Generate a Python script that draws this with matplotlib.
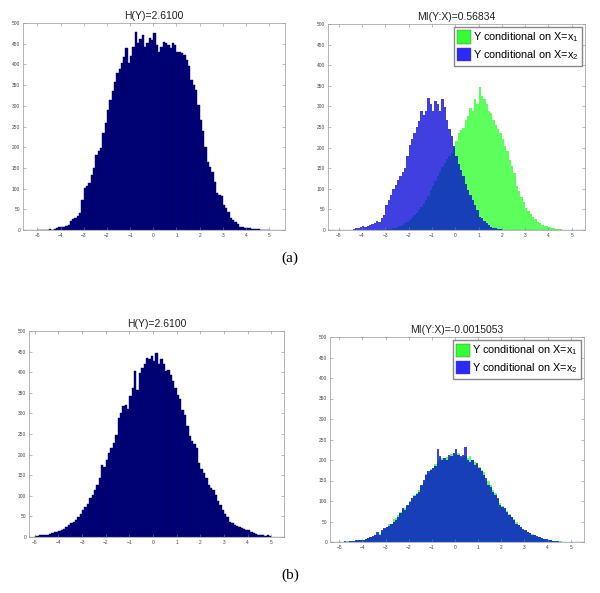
import numpy as np
import matplotlib
matplotlib.use("Agg")
import matplotlib.pyplot as plt
from matplotlib.patches import Patch

plt.rcParams['font.family'] = ['Liberation Sans', 'DejaVu Sans']
plt.rcParams['mathtext.fontset'] = 'custom'
plt.rcParams['mathtext.rm'] = 'Liberation Sans'
plt.rcParams['mathtext.it'] = 'Liberation Sans'

# 100 bins of width 0.1 between -5 and 5 (bin centres)
bin_centers = np.round(np.arange(100) * 0.1 - 4.95, 2)

# (a) left: H(Y) histogram
counts_a_y = [
    0, 0, 1, 0, 1, 2, 1, 3, 6, 7,
    8, 8, 9, 12, 22, 26, 29, 35, 41, 72,
    101, 107, 113, 133, 150, 181, 190, 198, 234, 258,
    290, 314, 336, 358, 379, 390, 403, 418, 440, 403,
    420, 443, 479, 451, 462, 471, 443, 452, 463, 458,
    476, 448, 430, 441, 455, 452, 447, 440, 451, 448,
    430, 429, 427, 423, 410, 395, 362, 350, 338, 302,
    266, 240, 201, 165, 152, 141, 117, 89, 85, 81,
    60, 52, 44, 28, 24, 20, 14, 8, 7, 5,
    4, 4, 3, 3, 2, 2, 1, 1, 0, 1,
]

# (a) right: Y conditional on X=x1 (green) and X=x2 (blue)
counts_a_x1 = [
    0, 0, 0, 0, 0, 0, 0, 0, 0, 0,
    0, 0, 0, 0, 0, 0, 0, 0, 1, 1,
    2, 2, 3, 5, 6, 8, 10, 12, 16, 20,
    25, 30, 36, 42, 49, 56, 64, 73, 82, 98,
    108, 118, 130, 140, 152, 163, 172, 180, 188, 200,
    215, 236, 242, 248, 268, 276, 297, 290, 317, 305,
    346, 325, 318, 305, 290, 285, 268, 255, 244, 236,
    220, 205, 191, 171, 155, 138, 106, 94, 81, 69,
    53, 45, 38, 32, 26, 20, 16, 12, 10, 9,
    8, 6, 5, 3, 3, 2, 1, 1, 0, 1,
]
counts_a_x2 = [
    0, 0, 0, 0, 1, 1, 2, 4, 6, 8,
    9, 8, 10, 12, 14, 18, 22, 20, 30, 37,
    61, 72, 85, 100, 110, 122, 130, 140, 151, 179,
    207, 220, 236, 250, 264, 289, 280, 289, 321, 305,
    289, 312, 305, 290, 317, 298, 268, 244, 228, 203,
    179, 159, 145, 130, 112, 98, 85, 73, 60, 49,
    32, 28, 22, 16, 12, 8, 6, 4, 3, 2,
    1, 1, 0, 0, 0, 0, 0, 0, 0, 0,
    0, 0, 0, 0, 0, 0, 0, 0, 0, 0,
    0, 0, 0, 0, 0, 0, 0, 0, 0, 0,
]

# (b) left: H(Y) histogram
counts_b_y = [
    2, 3, 4, 4, 5, 6, 8, 10, 12, 12,
    15, 18, 20, 24, 28, 33, 37, 42, 49, 55,
    65, 73, 81, 94, 102, 115, 126, 142, 175, 171,
    187, 203, 215, 228, 248, 289, 300, 317, 321, 310,
    342, 362, 403, 358, 399, 411, 419, 435, 431, 439,
    427, 447, 419, 431, 420, 403, 405, 394, 378, 362,
    345, 334, 309, 297, 270, 244, 232, 225, 216, 179,
    165, 155, 142, 126, 120, 114, 102, 88, 77, 65,
    55, 49, 37, 33, 29, 26, 24, 22, 20, 18,
    16, 12, 10, 8, 6, 4, 4, 3, 4, 3,
]

# (b) right: conditionals
counts_b_x1 = [
    0, 1, 1, 2, 2, 3, 3, 3, 5, 5,
    6, 7, 9, 11, 13, 16, 18, 20, 27, 32,
    36, 45, 44, 56, 58, 65, 72, 80, 84, 88,
    99, 104, 114, 120, 128, 136, 150, 166, 168, 178,
    181, 190, 198, 203, 206, 200, 208, 206, 214, 212,
    215, 218, 204, 208, 210, 205, 210, 199, 195, 190,
    182, 176, 170, 148, 150, 138, 126, 120, 104, 96,
    88, 80, 76, 68, 62, 55, 48, 42, 36, 30,
    28, 24, 22, 19, 16, 13, 11, 9, 8, 6,
    5, 4, 3, 3, 2, 2, 1, 1, 0, 1,
]
counts_b_x2 = [
    1, 1, 2, 1, 2, 2, 3, 4, 4, 5,
    6, 8, 9, 12, 14, 16, 25, 18, 29, 33,
    37, 40, 45, 50, 53, 62, 70, 82, 78, 90,
    98, 107, 111, 118, 123, 140, 152, 164, 172, 176,
    180, 185, 226, 209, 200, 205, 201, 213, 210, 217,
    226, 213, 209, 212, 231, 201, 195, 201, 189, 193,
    180, 172, 164, 156, 140, 135, 123, 115, 107, 90,
    86, 82, 74, 66, 60, 53, 45, 41, 37, 32,
    29, 25, 21, 18, 16, 14, 12, 10, 8, 7,
    6, 4, 3, 2, 2, 1, 1, 1, 1, 0,
]

titles = ['H(Y)=2.6100', 'MI(Y:X)=0.56834', 'H(Y)=2.6100', 'MI(Y:X)=-0.0015053']
legend_labels = ['Y conditional on X=x$_1$', 'Y conditional on X=x$_2$']
x_ticks = list(range(-5, 6))
y_ticks = list(range(0, 501, 50))

navy = '#00007f'
green = '#33ff33'
blue = '#0000d8'

W, H = 600, 593
fig = plt.figure(figsize=(6.0, 5.93), dpi=100)


def axes_px(l, t, r, b):
    return fig.add_axes([l / W, 1 - b / H, (r - l) / W, (b - t) / H])


def style(ax, xlim, title):
    ax.set_xlim(*xlim)
    ax.set_ylim(0, 500)
    ax.set_xticks(x_ticks)
    ax.set_yticks(y_ticks)
    ax.tick_params(direction='in', length=2, width=0.4, labelsize=3.5,
                   labelcolor='#444444', color='#888888', top=True, right=True, pad=2)
    for s in ax.spines.values():
        s.set_linewidth(0.5)
        s.set_color('#999999')
    ax.set_title(title, fontsize=7.5, pad=3, color='#222222')
    ax.axhline(0, color='#4a6cff', lw=0.9, zorder=5)


def add_legend(ax):
    handles = [Patch(facecolor='#33ff33', edgecolor='#555555', linewidth=0.3),
               Patch(facecolor='#2a2aff', edgecolor='#555555', linewidth=0.3)]
    ax.legend(handles, legend_labels, loc='upper right', fontsize=7.8, frameon=True,
              fancybox=False, edgecolor='#888888', framealpha=1, borderpad=0.3,
              handlelength=1.3, handleheight=1.5, handletextpad=0.15, labelspacing=0.35,
              borderaxespad=0.3)


# (a) left
ax = axes_px(23, 23, 285, 230)
ax.bar(bin_centers, counts_a_y, width=0.1, color=navy, edgecolor='#000050', linewidth=0.3)
style(ax, (-5.62, 5.68), titles[0])

# (a) right
ax = axes_px(328, 24, 585, 230)
ax.bar(bin_centers, counts_a_x1, width=0.1, color=green, alpha=0.8, linewidth=0)
ax.bar(bin_centers, counts_a_x2, width=0.1, color=blue, alpha=0.75, linewidth=0)
style(ax, (-5.46, 5.57), titles[1])
add_legend(ax)

# (b) left
ax = axes_px(29, 331, 284, 537)
ax.bar(bin_centers, counts_b_y, width=0.1, color=navy, edgecolor='#000050', linewidth=0.3)
style(ax, (-5.24, 5.53), titles[2])

# (b) right
ax = axes_px(330, 337, 584, 542)
ax.bar(bin_centers, counts_b_x1, width=0.1, color=green, alpha=0.8, linewidth=0)
ax.bar(bin_centers, counts_b_x2, width=0.1, color=blue, alpha=0.75, linewidth=0)
style(ax, (-5.4, 5.57), titles[3])
add_legend(ax)

fig.text(290 / W, 1 - 258 / H, '(a)', family='Liberation Serif', fontsize=11,
         ha='center', va='center')
fig.text(290 / W, 1 - 575 / H, '(b)', family='Liberation Serif', fontsize=11,
         ha='center', va='center')

fig.savefig('out.png', dpi=100, facecolor='white')
